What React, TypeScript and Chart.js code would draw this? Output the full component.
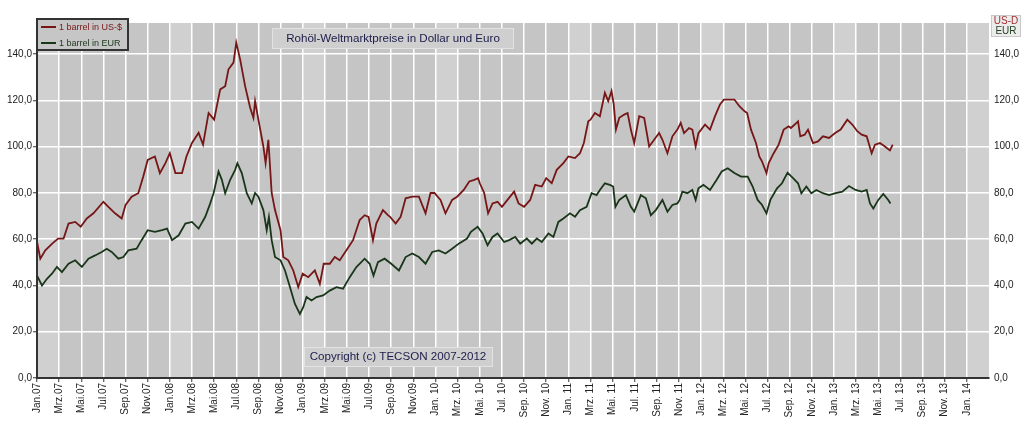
import { useEffect, useRef } from 'react';
import { Chart, registerables } from 'chart.js';

Chart.register(...registerables);

const FONT = 'Arial, "Liberation Sans", sans-serif';

const X_LABELS = [
  'Jan.07', 'Mrz.07', 'Mai.07', 'Jul.07', 'Sep.07', 'Nov.07',
  'Jan.08', 'Mrz.08', 'Mai.08', 'Jul.08', 'Sep.08', 'Nov.08',
  'Jan.09', 'Mrz.09', 'Mai.09', 'Jul.09', 'Sep.09', 'Nov.09',
  'Jan. 10', 'Mrz. 10', 'Mai. 10', 'Jul. 10', 'Sep. 10', 'Nov. 10',
  'Jan. 11', 'Mrz. 11', 'Mai. 11', 'Jul. 11', 'Sep. 11', 'Nov. 11',
  'Jan. 12', 'Mrz. 12', 'Mai. 12', 'Jul. 12', 'Sep. 12', 'Nov. 12',
  'Jan. 13', 'Mrz. 13', 'Mai. 13', 'Jul. 13', 'Sep. 13', 'Nov. 13',
  'Jan. 14',
];

const Y_TICKS = [0, 20, 40, 60, 80, 100, 120, 140];

const SERIES_LABELS = ['1 barrel in US-$', '1 barrel in EUR'];
const TITLE = 'Rohöl-Weltmarktpreise in Dollar und Euro';
const COPYRIGHT = 'Copyright (c) TECSON 2007-2012';
const UNIT_LABELS = ['US-D', 'EUR'];

// months since January 2007
const USD_MONTHS = [
  0.0, 0.3, 0.75, 1.35, 1.9, 2.4, 2.85, 3.45, 3.95, 4.5, 5.1, 6.0, 6.45, 7.05, 7.65, 8.0, 8.55, 9.15, 9.6, 10.0,
  10.65, 11.1, 11.6, 12.0, 12.5, 13.1, 13.5, 14.0, 14.6, 15.0, 15.5, 16.0, 16.55, 17.0, 17.3, 17.75, 18.0, 18.35, 18.8, 19.25,
  19.55, 19.7, 20.0, 20.45, 20.65, 20.9, 21.2, 21.5, 22.0, 22.25, 22.7, 23.15, 23.6, 24.0, 24.5, 25.1, 25.55, 25.9, 26.45, 26.9,
  27.35, 27.95, 28.55, 29.15, 29.6, 29.95, 30.35, 30.65, 31.25, 31.7, 31.9, 32.4, 32.85, 33.3, 33.9, 34.5, 35.1, 35.55, 35.9, 36.45,
  36.9, 37.5, 37.95, 38.55, 39.05, 39.5, 39.85, 40.0, 40.4, 40.75, 41.15, 41.6, 42.0, 42.5, 43.1, 43.5, 44.0, 44.55, 45.0, 45.6,
  46.0, 46.5, 46.95, 47.55, 48.0, 48.6, 49.05, 49.4, 49.8, 50.0, 50.4, 50.85, 51.3, 51.6, 51.9, 52.1, 52.3, 52.6, 53.05, 53.35,
  53.65, 53.95, 54.4, 54.85, 55.3, 55.75, 56.2, 56.5, 56.95, 57.4, 57.85, 58.15, 58.45, 58.9, 59.2, 59.5, 59.75, 60.0, 60.35, 60.8,
  61.25, 61.7, 62.05, 62.55, 63.0, 63.45, 63.9, 64.15, 64.5, 64.95, 65.25, 65.5, 65.9, 66.1, 66.55, 67.0, 67.45, 67.9, 68.1, 68.45,
  68.75, 68.95, 69.35, 69.65, 70.1, 70.55, 71.0, 71.55, 72.1, 72.6, 73.2, 73.65, 74.1, 74.5, 74.95, 75.4, 75.7, 76.15, 76.6, 77.05,
  77.3,
];
const USD_VALUES = [
  59.0, 51.6, 55.2, 58.0, 60.3, 60.3, 66.8, 67.5, 65.4, 69.0, 71.2, 76.2, 74.0, 71.2, 69.0, 74.8, 78.4, 79.9, 87.1, 94.3,
  95.8, 88.6, 92.9, 97.2, 88.6, 88.6, 95.8, 101.6, 106.0, 100.9, 114.6, 111.7, 124.8, 126.2, 133.5, 136.4, 145.0, 137.8, 126.2, 117.0,
  112.5, 119.7, 111.7, 100.1, 92.9, 103.0, 80.0, 72.6, 63.9, 52.3, 50.9, 46.5, 39.3, 45.1, 43.6, 46.5, 40.7, 49.4, 49.4, 52.3,
  50.9, 55.2, 59.6, 68.3, 70.4, 69.7, 59.6, 66.8, 72.6, 70.4, 69.7, 66.8, 69.7, 77.7, 78.4, 78.4, 71.2, 80.0, 80.0, 77.0,
  71.2, 77.0, 78.4, 81.3, 85.0, 85.7, 86.4, 84.2, 80.0, 71.2, 75.5, 76.2, 74.0, 77.0, 80.6, 75.5, 74.0, 77.0, 83.5, 82.8,
  86.4, 84.2, 90.0, 92.9, 95.8, 95.1, 97.2, 101.6, 111.0, 111.7, 114.6, 113.2, 123.3, 119.7, 124.1, 118.3, 107.4, 112.5, 113.9, 114.6,
  107.4, 101.6, 113.2, 112.5, 100.1, 103.0, 105.9, 103.0, 97.2, 104.5, 107.4, 110.3, 105.9, 108.1, 107.4, 100.1, 105.9, 107.4, 109.6, 107.4,
  113.2, 118.3, 120.4, 120.4, 120.4, 117.5, 115.4, 114.6, 107.4, 101.6, 95.8, 93.6, 88.6, 92.9, 97.2, 100.9, 107.4, 108.8, 108.1, 109.6,
  111.0, 104.5, 105.2, 107.4, 101.6, 102.3, 104.5, 103.8, 105.9, 107.4, 111.7, 109.6, 106.7, 105.2, 104.5, 97.2, 100.9, 101.6, 100.1, 98.4,
  100.9,
];

const EUR_MONTHS = [
  0.0, 0.45, 0.9, 1.35, 1.8, 2.25, 2.85, 3.45, 4.05, 4.65, 5.25, 5.85, 6.3, 6.75, 7.35, 7.8, 8.25, 9.0, 9.45, 10.0,
  10.65, 11.3, 11.75, 12.2, 12.8, 13.4, 14.0, 14.6, 15.2, 15.65, 15.95, 16.4, 16.7, 17.0, 17.45, 17.9, 18.1, 18.5, 18.95, 19.4,
  19.7, 20.0, 20.45, 20.75, 20.95, 21.2, 21.5, 22.0, 22.4, 22.85, 23.3, 23.75, 24.05, 24.35, 24.8, 25.25, 25.85, 26.45, 27.05, 27.65,
  28.25, 28.85, 29.6, 30.05, 30.4, 30.8, 31.4, 32.0, 32.7, 33.3, 33.9, 34.5, 35.1, 35.7, 36.3, 36.9, 37.5, 38.1, 38.85, 39.2,
  39.8, 40.25, 40.7, 41.15, 41.6, 42.2, 42.65, 43.2, 43.65, 44.25, 44.7, 45.15, 45.6, 46.2, 46.65, 47.1, 47.55, 48.15, 48.6, 49.05,
  49.65, 50.1, 50.55, 50.85, 51.3, 51.75, 52.05, 52.25, 52.6, 53.2, 53.65, 53.95, 54.55, 55.0, 55.45, 55.9, 56.5, 56.95, 57.4, 57.85,
  58.05, 58.3, 58.75, 59.2, 59.5, 59.75, 60.2, 60.8, 61.4, 61.85, 62.4, 63.0, 63.6, 64.2, 64.65, 65.1, 65.5, 65.9, 66.25, 66.85,
  67.3, 67.8, 68.3, 68.75, 69.05, 69.5, 69.95, 70.4, 71.0, 71.55, 72.15, 72.75, 73.35, 73.95, 74.5, 74.95, 75.25, 75.55, 76.0, 76.45,
  76.9, 77.1,
];
const EUR_VALUES = [
  44.3, 40.0, 42.9, 45.1, 48.0, 45.8, 49.4, 50.9, 48.0, 51.6, 53.0, 54.5, 55.9, 54.5, 51.6, 52.3, 55.2, 55.9, 59.6, 63.9,
  63.2, 63.9, 64.6, 59.6, 61.7, 66.8, 67.5, 64.6, 69.7, 75.5, 79.9, 89.3, 85.7, 79.9, 85.7, 90.0, 92.9, 88.6, 79.9, 75.5,
  80.0, 78.4, 72.6, 63.9, 69.7, 59.6, 52.3, 50.9, 46.5, 39.3, 32.0, 27.7, 30.6, 35.0, 33.5, 35.0, 35.7, 37.8, 39.3, 38.6,
  43.6, 48.0, 51.6, 49.4, 44.3, 50.1, 51.6, 49.4, 46.5, 52.3, 53.8, 52.3, 49.4, 54.5, 55.2, 53.8, 55.9, 58.1, 60.3, 63.2,
  65.4, 62.5, 57.4, 61.0, 62.5, 58.8, 59.6, 61.0, 58.1, 60.3, 58.1, 60.3, 58.8, 62.5, 61.0, 67.5, 69.0, 71.2, 69.7, 72.6,
  74.0, 79.9, 79.1, 81.3, 84.2, 83.5, 82.8, 74.0, 77.0, 79.1, 74.0, 71.9, 79.1, 77.7, 70.4, 72.6, 77.0, 71.9, 74.8, 75.5,
  77.0, 80.6, 79.9, 81.3, 77.0, 82.0, 83.5, 81.3, 85.7, 89.3, 90.7, 88.6, 87.1, 87.1, 82.8, 77.0, 74.8, 71.2, 77.0, 82.0,
  84.2, 88.8, 86.4, 84.2, 79.9, 82.8, 79.9, 81.3, 79.9, 79.1, 79.9, 80.6, 83.0, 81.3, 80.6, 81.3, 75.5, 73.3, 77.0, 79.6,
  77.0, 75.5,
];

const USD_COLOR = '#761616';
const EUR_COLOR = '#1a361a';
const TEXT_COLOR = '#222222';
const BOX_TEXT = '#1c1c4a';

const fmt = (v: number) => v.toFixed(1).replace('.', ',');

const backgroundPlugin = {
  id: 'bgBands',
  beforeDraw(chart: any) {
    const { ctx, chartArea: a, scales } = chart;
    const x = scales.x;
    ctx.save();
    ctx.fillStyle = '#c5c5c5';
    ctx.fillRect(a.left, a.top, a.right - a.left, a.bottom - a.top);
    ctx.fillStyle = '#d0d0d0';
    for (let m = 0; m <= 84; m += 12) {
      const x0 = x.getPixelForValue(m);
      const x1 = x.getPixelForValue(Math.min(m + 2, x.max));
      ctx.fillRect(x0, a.top, x1 - x0, a.bottom - a.top);
    }
    ctx.restore();
  },
};

const overlayPlugin = {
  id: 'overlays',
  afterDraw(chart: any) {
    const { ctx } = chart;
    ctx.save();
    // legend box
    ctx.fillStyle = '#c6c6c6';
    ctx.fillRect(37, 19, 91, 31);
    ctx.strokeStyle = '#333333';
    ctx.lineWidth = 2;
    ctx.strokeRect(37, 19, 91, 31);
    const ds = chart.data.datasets;
    const rows = [27, 43];
    ds.forEach((d: any, i: number) => {
      ctx.strokeStyle = d.borderColor;
      ctx.lineWidth = 2;
      ctx.beginPath();
      ctx.moveTo(41, rows[i]);
      ctx.lineTo(56, rows[i]);
      ctx.stroke();
      ctx.fillStyle = d.borderColor;
      ctx.font = `9px ${FONT}`;
      ctx.textAlign = 'left';
      ctx.textBaseline = 'middle';
      ctx.fillText(d.label, 59, rows[i] + 0.5);
    });

    // title box
    ctx.fillStyle = '#cfcfcf';
    ctx.fillRect(272, 28, 241, 20);
    ctx.strokeStyle = '#e2e2e2';
    ctx.lineWidth = 1;
    ctx.strokeRect(272.5, 28.5, 241, 20);
    ctx.fillStyle = BOX_TEXT;
    ctx.font = `11.6px ${FONT}`;
    ctx.textAlign = 'center';
    ctx.textBaseline = 'middle';
    ctx.fillText(TITLE, 393, 38.5);

    // copyright box
    ctx.fillStyle = '#cfcfcf';
    ctx.fillRect(304, 347, 188, 19);
    ctx.strokeStyle = '#e2e2e2';
    ctx.strokeRect(304.5, 347.5, 188, 19);
    ctx.fillStyle = BOX_TEXT;
    ctx.fillText(COPYRIGHT, 398, 357);

    // unit box (right)
    ctx.fillStyle = '#ececec';
    ctx.fillRect(991, 15, 30, 22);
    ctx.strokeStyle = '#c8c8c8';
    ctx.strokeRect(991.5, 15.5, 29, 21);
    ctx.font = `10px ${FONT}`;
    ctx.fillStyle = '#a03030';
    ctx.fillText(UNIT_LABELS[0], 1006, 21);
    ctx.fillStyle = '#204020';
    ctx.fillText(UNIT_LABELS[1], 1006, 31);
    ctx.restore();
  },
};

export default function App() {
  const ref = useRef<HTMLCanvasElement | null>(null);

  useEffect(() => {
    if (!ref.current) return;
    const usd = USD_MONTHS.map((m, i) => ({ x: m, y: USD_VALUES[i] }));
    const eur = EUR_MONTHS.map((m, i) => ({ x: m, y: EUR_VALUES[i] }));
    const yTickOpts = {
      callback: (v: any) => fmt(Number(v)),
      font: { family: FONT, size: 10 },
      color: TEXT_COLOR,
    };
    const chart = new Chart(ref.current, {
      type: 'line',
      data: {
        datasets: [
          {
            label: SERIES_LABELS[0],
            data: usd,
            borderColor: USD_COLOR,
            borderWidth: 1.8,
            pointRadius: 0,
            tension: 0,
            yAxisID: 'y',
          },
          {
            label: SERIES_LABELS[1],
            data: eur,
            borderColor: EUR_COLOR,
            borderWidth: 1.8,
            pointRadius: 0,
            tension: 0,
            yAxisID: 'y',
          },
        ],
      },
      options: {
        responsive: false,
        animation: false,
        devicePixelRatio: 1,
        layout: { padding: { top: 23, left: 0, right: 0, bottom: 0 } },
        plugins: {
          legend: { display: false },
          tooltip: { enabled: false },
          title: { display: false },
        },
        scales: {
          x: {
            type: 'linear',
            min: 0,
            max: 86,
            afterBuildTicks: (s: any) => {
              s.ticks = X_LABELS.map((_, i) => ({ value: i * 2 }));
            },
            afterFit: (s: any) => {
              s.height = 48;
            },
            ticks: {
              autoSkip: false,
              maxRotation: 90,
              minRotation: 90,
              padding: 1,
              font: { family: FONT, size: 10 },
              color: TEXT_COLOR,
              callback: (v: any) => X_LABELS[Math.round(Number(v) / 2)],
            },
            grid: { color: '#ffffff', lineWidth: 1.5, tickLength: 4, tickColor: '#333333', tickWidth: 1 },
            border: { color: '#333333', width: 2 },
          },
          y: {
            position: 'left',
            min: 0,
            max: 153.5,
            afterBuildTicks: (s: any) => {
              s.ticks = Y_TICKS.map((v) => ({ value: v }));
            },
            afterFit: (s: any) => {
              s.width = 37;
            },
            ticks: { ...yTickOpts, padding: 1 },
            grid: { color: '#ffffff', lineWidth: 1.5, tickLength: 4, tickColor: '#333333', tickWidth: 1 },
            border: { color: '#333333', width: 2 },
          },
          y2: {
            position: 'right',
            min: 0,
            max: 153.5,
            afterBuildTicks: (s: any) => {
              s.ticks = Y_TICKS.map((v) => ({ value: v }));
            },
            afterFit: (s: any) => {
              s.width = 35;
            },
            ticks: { ...yTickOpts, padding: 5 },
            grid: { drawOnChartArea: false, drawTicks: false },
            border: { display: false },
          },
        },
      },
      plugins: [backgroundPlugin, overlayPlugin],
    } as any);
    return () => chart.destroy();
  }, []);

  return (
    <div style={{ position: 'absolute', left: 0, top: 0, width: 1024, height: 426, background: '#ffffff' }}>
      <canvas ref={ref} width={1024} height={426} style={{ display: 'block' }} />
    </div>
  );
}
